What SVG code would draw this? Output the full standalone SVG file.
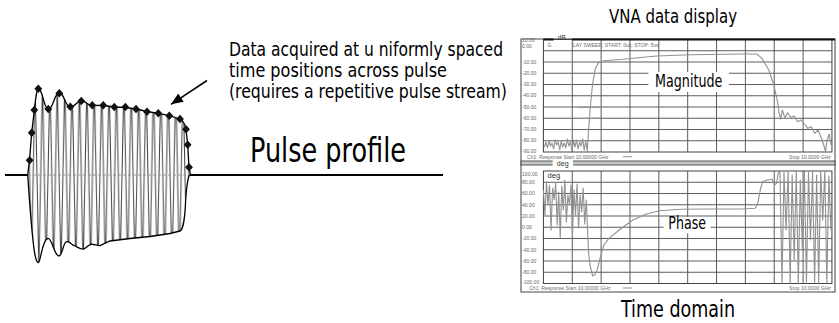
<svg xmlns="http://www.w3.org/2000/svg" width="839" height="323" viewBox="0 0 839 323">
<style>
.t{font-family:'Liberation Sans Narrow','Arial Narrow','DejaVu Sans Condensed','Liberation Sans',sans-serif;fill:#000}
.s{font-family:'Liberation Sans','DejaVu Sans',sans-serif;fill:#6a6a6a;font-size:5px}
.grid{stroke:#5e5e5e;stroke-width:1;fill:none}
.trace{stroke:#929292;stroke-width:1.1;fill:none;stroke-linejoin:round}
.env{stroke:#000;stroke-width:1.3;fill:none}
</style>
<defs>
<pattern id="carrier" patternUnits="userSpaceOnUse" x="27.7" y="80" width="7.4" height="190">
<path d="M0,0 L3.7,190 L7.4,0" stroke="#444" stroke-width="1" fill="none"/>
</pattern>
<path id="dia" d="M0,-4.3 L3.9,0 L0,4.3 L-3.9,0 Z" fill="#111"/>
<clipPath id="belowTop"><path d="M27.7,175 L29.5,160 L31.7,133 L34.3,110 C35.8,97 36.8,89 38.3,89 C43.3,89 43.3,109 48.3,109 C53.8,109 53.8,93 59.3,93 C64.8,93 64.8,107 70.3,107 C75.8,107 75.8,101 81.3,101 C86.8,101 86.8,105.3 92.3,105.3 L103.3,105.5 L114.3,107 L125.3,107.5 L136,109 L147,111.5 L158.3,113.3 L169.3,115.7 L180,119 Q184.5,121 186,129.3 L187.7,144.7 L189,167.3 L190.5,175 L190.5,300 L27.7,300 Z"/></clipPath>
<clipPath id="aboveBottom"><path d="M27.7,175 C29.5,200 32,240 35,255 C36.5,262 37.5,263 38.5,262.5 C41,261 42,240 47.7,238.5 C52,237 54,256 59,256 C62.5,256 63,242 66.7,241.7 C70,241.5 72,245 74,245.5 C78,247 80,249.5 83.3,249 C86,248.5 88,245 91,244.3 C94,243.8 97,246 100,245.7 L110,241 L130,238.5 L150,236.5 L170,233.5 L180,231 C182,230.5 184.5,222 185.3,207 C186,192 187,180 189.5,175 L189.5,60 L27.7,60 Z"/></clipPath>
<marker id="ah" markerUnits="userSpaceOnUse" markerWidth="14" markerHeight="12" refX="12" refY="5" orient="auto">
<path d="M0,0 L12,5 L0,10 Z" fill="#000"/>
</marker>
</defs>
<rect width="839" height="323" fill="#fff"/>

<g id="pulse">
<path d="M5,175 H28 M189.5,175 H443" stroke="#000" stroke-width="2" fill="none"/>
<g clip-path="url(#belowTop)"><g clip-path="url(#aboveBottom)">
<rect x="27" y="80" width="165" height="190" fill="url(#carrier)"/>
</g></g>
<path d="M28,175 H189" stroke="#888" stroke-width="0.8" stroke-dasharray="3,2"/>
<path class="env" d="M27.7,175 L29.5,160 L31.7,133 L34.3,110 C35.8,97 36.8,89 38.3,89 C43.3,89 43.3,109 48.3,109 C53.8,109 53.8,93 59.3,93 C64.8,93 64.8,107 70.3,107 C75.8,107 75.8,101 81.3,101 C86.8,101 86.8,105.3 92.3,105.3 L103.3,105.5 L114.3,107 L125.3,107.5 L136,109 L147,111.5 L158.3,113.3 L169.3,115.7 L180,119 Q184.5,121 186,129.3 L187.7,144.7 L189,167.3 L190.5,175"/>
<path class="env" d="M27.7,175 C29.5,200 32,240 35,255 C36.5,262 37.5,263 38.5,262.5 C41,261 42,240 47.7,238.5 C52,237 54,256 59,256 C62.5,256 63,242 66.7,241.7 C70,241.5 72,245 74,245.5 C78,247 80,249.5 83.3,249 C86,248.5 88,245 91,244.3 C94,243.8 97,246 100,245.7 L110,241 L130,238.5 L150,236.5 L170,233.5 L180,231 C182,230.5 184.5,222 185.3,207 C186,192 187,180 189.5,175"/>
<use href="#dia" x="29.6" y="160.3"/>
<use href="#dia" x="31.7" y="132.7"/>
<use href="#dia" x="34.3" y="110"/>
<use href="#dia" x="38.3" y="88.7"/>
<use href="#dia" x="48.3" y="109"/>
<use href="#dia" x="59.3" y="93.3"/>
<use href="#dia" x="70.3" y="106.7"/>
<use href="#dia" x="81.3" y="101"/>
<use href="#dia" x="92.3" y="105.3"/>
<use href="#dia" x="103.3" y="105.3"/>
<use href="#dia" x="114.3" y="107"/>
<use href="#dia" x="125.3" y="107"/>
<use href="#dia" x="136" y="109"/>
<use href="#dia" x="147" y="111.7"/>
<use href="#dia" x="158.3" y="113.3"/>
<use href="#dia" x="169.3" y="115.7"/>
<use href="#dia" x="180" y="119"/>
<use href="#dia" x="186" y="129.3"/>
<use href="#dia" x="187.7" y="144.7"/>
<use href="#dia" x="189" y="167.3"/>
</g>

<g id="connectors">
<line x1="207" y1="80.5" x2="171" y2="104.3" stroke="#000" stroke-width="1.5" marker-end="url(#ah)"/>
</g>

<g id="annotation">
<text class="t" x="229" y="55.5" font-size="20" textLength="274" lengthAdjust="spacingAndGlyphs">Data acquired at u niformly spaced</text>
<text class="t" x="229" y="76.5" font-size="20" textLength="218" lengthAdjust="spacingAndGlyphs">time positions across pulse</text>
<text class="t" x="229" y="97.5" font-size="20" textLength="278" lengthAdjust="spacingAndGlyphs">(requires a repetitive pulse stream)</text>
</g>

<g id="pulse-label">
<text class="t" x="250" y="162" font-size="34" textLength="156" lengthAdjust="spacingAndGlyphs">Pulse profile</text>
</g>

<g id="vna-title">
<text class="t" x="673" y="23" font-size="20" text-anchor="middle" textLength="128" lengthAdjust="spacingAndGlyphs">VNA data display</text>
</g>

<g id="vna" transform="matrix(1.01948,0,0,1,-16.27,0)">
<rect x="527" y="39" width="308" height="253" fill="#fff" stroke="#444" stroke-width="1"/>
<path class="grid" d="M577.3,39.5V152 M605.6,39.5V152 M633.9,39.5V152 M662.2,39.5V152 M690.5,39.5V152 M718.8,39.5V152 M747.1,39.5V152 M775.4,39.5V152 M803.7,39.5V152 M549,50.75H832 M549,62H832 M549,73.25H832 M549,84.5H832 M549,95.75H832 M549,107H832 M549,118.25H832 M549,129.5H832 M549,140.75H832"/>
<rect x="549" y="39.5" width="283" height="112.5" fill="none" stroke="#444" stroke-width="1"/>
<path d="M549,39.5H559 M577,39.5H835" stroke="#111" stroke-width="2"/>
<text x="567" y="40.5" font-family="Liberation Sans,sans-serif" font-size="6.5" fill="#333" text-anchor="middle">dB</text>
<text class="s" x="553" y="47" font-size="4.5">G</text>
<text class="s" x="578" y="46.8">LAY SWEEP; START: 0us; STOP: 5us</text>
<path class="trace" d="M582.7,107.3H606 M584,118.3H606"/>
<polyline class="trace" points="550,147 551.5,142 553,148 554.5,141 556,146 557.5,143 559,149 560.5,140 562,145 563.5,142 565,150 566.5,141 568,147 569.5,143 571,148 572.5,139 574,146 575.5,142 577,151 578.5,141 580,147 581.5,140 583,149 584.5,142 586,146 587.5,139 589,150 590.5,141 592,151 593.3,130 595,106.7 597.3,83.3 600,68.3 603.3,62.3 608.3,60.7 626.7,59.3 660,56 693.3,54.7 743.3,54 758.3,54 763.3,58.3 770,70 775,85 778.3,100 780,111.7 781.7,119.3 783.3,110 786,118.3 788.3,112.7 791.7,117.3 795,116 798.3,121.7 801.7,120 805,124 808.3,128.3 811.7,126.7 815,133.3 818.3,130 821.7,138.3 824,145 825.7,151.7 827.3,140 829.3,134 831,145"/>
<rect x="652" y="72" width="79" height="20" fill="#fff"/>
<text class="t" x="691.5" y="87" font-size="17" text-anchor="middle" textLength="66" lengthAdjust="spacingAndGlyphs">Magnitude</text>
<text class="s" x="528" y="42" font-size="4">10.00</text>
<text class="s" x="528" y="48" font-size="4">0.00</text>
<text class="s" x="528" y="63.8">-10.00</text>
<text class="s" x="528" y="75">-20.00</text>
<text class="s" x="528" y="86.3">-30.00</text>
<text class="s" x="528" y="97.5">-40.00</text>
<text class="s" x="528" y="108.8">-50.00</text>
<text class="s" x="528" y="120">-60.00</text>
<text class="s" x="528" y="131.3">-70.00</text>
<text class="s" x="528" y="142.5">-80.00</text>
<text class="s" x="528" y="153">-90.00</text>
<text class="s" x="533" y="158.7">Ch1: Response Start 10.00000 GHz</text>
<path d="M627,156.7H636" stroke="#777" stroke-width="0.8"/>
<text class="s" x="831" y="158.7" text-anchor="end">Stop 10.0000 GHz</text>
<rect x="527" y="161" width="308" height="4" fill="#c8c8c8" stroke="#333" stroke-width="0.8"/>
<rect x="558" y="159.5" width="20" height="8" fill="#fff"/>
<text x="568" y="166" font-family="Liberation Sans,sans-serif" font-size="7" fill="#333" text-anchor="middle">deg</text>
<path class="grid" d="M577.3,171V283.5 M605.6,171V283.5 M633.9,171V283.5 M662.2,171V283.5 M690.5,171V283.5 M718.8,171V283.5 M747.1,171V283.5 M775.4,171V283.5 M803.7,171V283.5 M549,182.25H832 M549,193.5H832 M549,204.75H832 M549,216H832 M549,227.25H832 M549,238.5H832 M549,249.75H832 M549,261H832 M549,272.25H832"/>
<rect x="549" y="171" width="283" height="112.5" fill="none" stroke="#444" stroke-width="1"/>
<polyline class="trace" points="549,190 550.5,215 552,182 553.5,205 555,185 556.5,230 558,188 559.5,200 561,183 562.5,225 564,192 565.5,238 567,186 568.5,210 570,180 571.5,222 573,195 574.5,205 576,185 577.5,235 579,190 580.5,215 582,184 583.5,228 585,195 586.5,212 588,188 589.5,224 591,200 593.3,253.3 595,266.7 597.3,276 599.3,275 601.7,270 605,256.7 608.3,245 613.3,238.3 623.3,230 636.7,220 650,214 663.3,210.7 683.3,209.3 710,209 743.3,209 756.7,208.3 759.3,203.3 761.7,190 764,181.7 768.3,180 773.3,179.3 775.7,185 777.7,183.3 779.3,173.3 781,171 783,283 785,172 787,230 789,171 791,283 793,175 795,260 797,171 799,283 801,180 803,250 805,171 807,283 809,172 811,240 813,171 815,283 817,175 819,283 821,171 823,220 825,171 827,283 829,176 831,230"/>
<rect x="667" y="217" width="46" height="16.5" fill="#fff"/>
<text class="t" x="690" y="229.5" font-size="17" text-anchor="middle" textLength="37" lengthAdjust="spacingAndGlyphs">Phase</text>
<text x="553" y="178" font-family="Liberation Sans,sans-serif" font-size="7.5" fill="#333">deg</text>
<text class="s" x="528" y="176.5">100.00</text>
<text class="s" x="528" y="184.2">80.00</text>
<text class="s" x="528" y="195.5">60.00</text>
<text class="s" x="528" y="206.7">40.00</text>
<text class="s" x="528" y="218">20.00</text>
<text class="s" x="528" y="229.2">0.00</text>
<text class="s" x="528" y="240.5">-20.00</text>
<text class="s" x="528" y="251.7">-40.00</text>
<text class="s" x="528" y="263">-60.00</text>
<text class="s" x="528" y="274.2">-80.00</text>
<text class="s" x="528" y="284.5">-100.00</text>
<text class="s" x="535" y="290">Ch1: Response Start 10.00000 GHz</text>
<path d="M627,288H636" stroke="#777" stroke-width="0.8"/>
<text class="s" x="831" y="290" text-anchor="end">Stop 10.0000 GHz</text>
</g>

<g id="time-domain-label">
<text class="t" x="678" y="317" font-size="23" text-anchor="middle" textLength="114" lengthAdjust="spacingAndGlyphs">Time domain</text>
</g>
</svg>
